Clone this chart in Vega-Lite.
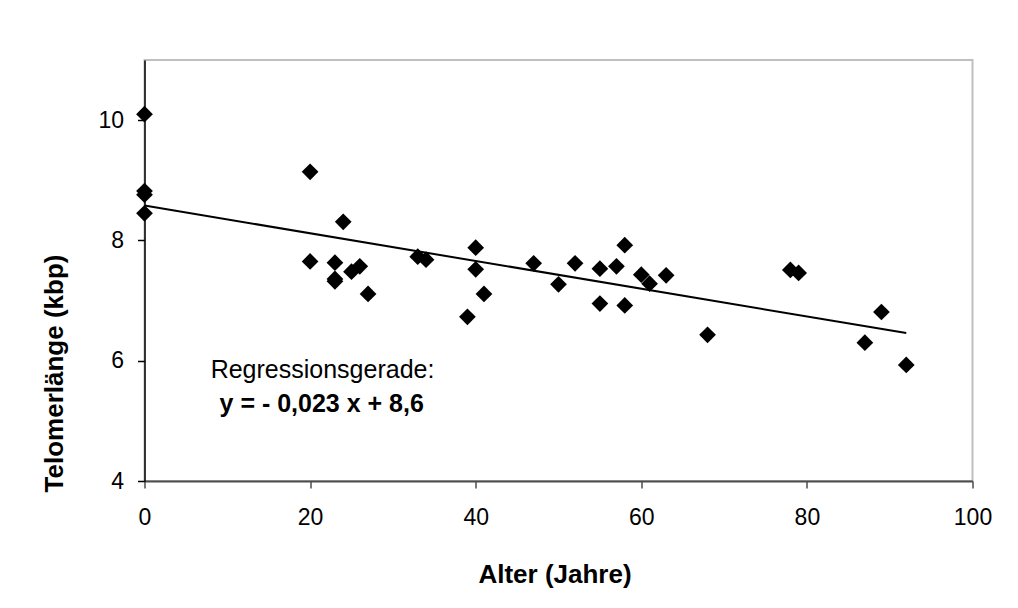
{
  "$schema": "https://vega.github.io/schema/vega-lite/v6.json",
  "width": 828,
  "height": 421,
  "autosize": "none",
  "padding": {"left": 144.5, "top": 60, "right": 45.5, "bottom": 127},
  "background": "white",
  "config": {
    "view": {"stroke": "#bfbfbf", "strokeWidth": 2},
    "font": "Liberation Sans"
  },
  "datasets": {
    "punkte": [
      {"alter": 0, "telomer": 10.10},
      {"alter": 0, "telomer": 8.82},
      {"alter": 0, "telomer": 8.76},
      {"alter": 0, "telomer": 8.45},
      {"alter": 20, "telomer": 9.14},
      {"alter": 20, "telomer": 7.65},
      {"alter": 23, "telomer": 7.63},
      {"alter": 23, "telomer": 7.36},
      {"alter": 23, "telomer": 7.32},
      {"alter": 24, "telomer": 8.31},
      {"alter": 25, "telomer": 7.48},
      {"alter": 26, "telomer": 7.57},
      {"alter": 27, "telomer": 7.11},
      {"alter": 33, "telomer": 7.73},
      {"alter": 34, "telomer": 7.68},
      {"alter": 39, "telomer": 6.73},
      {"alter": 40, "telomer": 7.88},
      {"alter": 40, "telomer": 7.52},
      {"alter": 41, "telomer": 7.11},
      {"alter": 47, "telomer": 7.62},
      {"alter": 50, "telomer": 7.27},
      {"alter": 52, "telomer": 7.62},
      {"alter": 55, "telomer": 7.53},
      {"alter": 55, "telomer": 6.95},
      {"alter": 57, "telomer": 7.57},
      {"alter": 58, "telomer": 7.92},
      {"alter": 58, "telomer": 6.92},
      {"alter": 60, "telomer": 7.43},
      {"alter": 61, "telomer": 7.28},
      {"alter": 63, "telomer": 7.42},
      {"alter": 68, "telomer": 6.43},
      {"alter": 78, "telomer": 7.51},
      {"alter": 79, "telomer": 7.46},
      {"alter": 87, "telomer": 6.30},
      {"alter": 89, "telomer": 6.81},
      {"alter": 92, "telomer": 5.93}
    ],
    "gerade": [
      {"alter": 0, "telomer": 8.58},
      {"alter": 92, "telomer": 6.46}
    ],
    "beschriftung1": [
      {"alter": 21.5, "telomer": 5.72, "text": "Regressionsgerade:"}
    ],
    "beschriftung2": [
      {"alter": 21.4, "telomer": 5.15, "text": "y = - 0,023 x + 8,6"}
    ]
  },
  "layer": [
    {
      "data": {"name": "gerade"},
      "mark": {"type": "line", "color": "black", "strokeWidth": 2},
      "encoding": {
        "x": {
          "field": "alter",
          "type": "quantitative",
          "scale": {"domain": [0, 100], "nice": false, "zero": false},
          "axis": {
            "title": "Alter (Jahre)",
            "values": [0, 20, 40, 60, 80, 100],
            "format": "d",
            "grid": false,
            "labelFont": "Liberation Sans",
            "labelFontSize": 23,
            "labelColor": "black",
            "labelPadding": 18,
            "labelFlush": false,
            "tickSize": 7,
            "tickColor": "#4d4d4d",
            "tickWidth": 1.5,
            "domainColor": "#4d4d4d",
            "domainWidth": 2,
            "titleFont": "Liberation Sans",
            "titleFontSize": 26,
            "titleFontWeight": "bold",
            "titleColor": "black",
            "titleY": 101.7,
            "titleX": 410,
            "titleAlign": "center",
            "titleBaseline": "alphabetic"
          }
        },
        "y": {
          "field": "telomer",
          "type": "quantitative",
          "scale": {"domain": [4, 11], "nice": false, "zero": false},
          "axis": {
            "title": "Telomerlänge (kbp)",
            "values": [4, 6, 8, 10],
            "format": "d",
            "grid": false,
            "labelFont": "Liberation Sans",
            "labelFontSize": 23,
            "labelColor": "black",
            "labelPadding": 14,
            "labelFlush": false,
            "tickSize": 7,
            "tickColor": "black",
            "tickWidth": 1.5,
            "domainColor": "black",
            "domainWidth": 1.5,
            "titleFont": "Liberation Sans",
            "titleFontSize": 26,
            "titleFontWeight": "bold",
            "titleColor": "black",
            "titleAngle": 270,
            "titleX": -82.5,
            "titleY": 313,
            "titleAlign": "center",
            "titleBaseline": "alphabetic"
          }
        }
      }
    },
    {
      "data": {"name": "punkte"},
      "mark": {"type": "point", "shape": "diamond", "filled": true, "color": "black", "size": 280, "opacity": 1, "strokeWidth": 0},
      "encoding": {
        "x": {"field": "alter", "type": "quantitative"},
        "y": {"field": "telomer", "type": "quantitative"}
      }
    },
    {
      "data": {"name": "beschriftung1"},
      "mark": {"type": "text", "font": "Liberation Sans", "fontSize": 25, "color": "black", "align": "center", "baseline": "alphabetic"},
      "encoding": {
        "x": {"field": "alter", "type": "quantitative"},
        "y": {"field": "telomer", "type": "quantitative"},
        "text": {"field": "text"}
      }
    },
    {
      "data": {"name": "beschriftung2"},
      "mark": {"type": "text", "font": "Liberation Sans", "fontSize": 25, "fontWeight": "bold", "color": "black", "align": "center", "baseline": "alphabetic"},
      "encoding": {
        "x": {"field": "alter", "type": "quantitative"},
        "y": {"field": "telomer", "type": "quantitative"},
        "text": {"field": "text"}
      }
    }
  ]
}
